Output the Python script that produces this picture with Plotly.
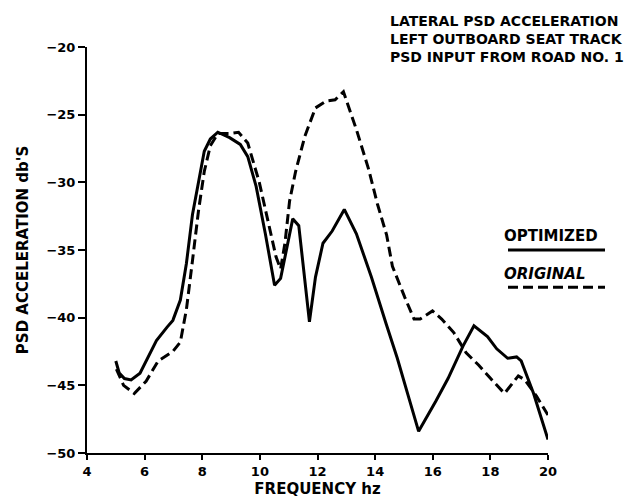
import plotly.graph_objects as go

# ---- data ----
freq_opt = [5.0, 5.12, 5.3, 5.53, 5.84, 6.1, 6.41, 6.78, 6.98, 7.24, 7.45, 7.66, 7.87,
            8.07, 8.28, 8.54, 8.95, 9.32, 9.58, 9.87, 10.19, 10.51, 10.72, 10.98, 11.14,
            11.35, 11.72, 11.93, 12.19, 12.51, 12.93, 13.35, 13.87, 14.39, 14.77, 15.14,
            15.51, 16.1, 16.53, 17.05, 17.43, 17.9, 18.22, 18.6, 18.91, 19.07, 19.5, 20.0]
psd_opt = [-43.2, -44.1, -44.5, -44.6, -44.1, -43.0, -41.7, -40.7, -40.2, -38.7, -36.0,
           -32.4, -29.9, -27.7, -26.8, -26.3, -26.7, -27.2, -28.1, -30.3, -33.8, -37.6,
           -37.1, -34.3, -32.7, -33.2, -40.3, -37.0, -34.5, -33.6, -32.0, -33.8, -37.0,
           -40.5, -43.0, -45.7, -48.4, -46.2, -44.5, -42.1, -40.6, -41.4, -42.3, -43.0,
           -42.9, -43.2, -45.6, -49.0]

freq_orig = [5.02, 5.27, 5.64, 6.05, 6.47, 6.98, 7.24, 7.45, 7.66, 7.87, 8.07, 8.28, 8.54,
             8.95, 9.26, 9.58, 9.98, 10.29, 10.56, 10.72, 10.87, 11.03, 11.24, 11.56,
             11.93, 12.29, 12.61, 12.9, 13.35, 13.77, 14.08, 14.4, 14.6, 15.03, 15.35,
             15.56, 15.99, 16.31, 16.73, 17.16, 17.59, 18.01, 18.49, 18.97, 19.2, 19.6, 20.0]
psd_orig = [-43.8, -45.0, -45.6, -44.7, -43.2, -42.5, -41.8, -39.4, -35.8, -32.1, -29.2,
            -27.3, -26.4, -26.4, -26.3, -27.1, -30.0, -32.9, -35.5, -36.4, -34.5, -31.4,
            -29.2, -26.6, -24.5, -24.0, -23.9, -23.3, -26.1, -29.0, -31.6, -33.9, -36.2,
            -38.5, -40.1, -40.1, -39.5, -40.1, -41.1, -42.6, -43.5, -44.5, -45.6, -44.3,
            -44.6, -45.8, -47.2]

x_ticks = [4, 6, 8, 10, 12, 14, 16, 18, 20]
y_ticks = [-50, -45, -40, -35, -30, -25, -20]

title_lines = ["LATERAL PSD ACCELERATION", "LEFT OUTBOARD SEAT TRACK", "PSD INPUT FROM ROAD NO. 1"]

FONT = "DejaVu Sans"

fig = go.Figure()
fig.add_trace(go.Scatter(x=freq_opt, y=psd_opt, mode="lines", name="OPTIMIZED",
                         line=dict(color="black", width=3), showlegend=False))
fig.add_trace(go.Scatter(x=freq_orig, y=psd_orig, mode="lines", name="ORIGINAL",
                         line=dict(color="black", width=3, dash="10px,5px"), showlegend=False))

W, H = 637, 499
L, R, T, B = 79, 97, 39, 46
pw, ph = W - L - R, H - T - B

def px(xp):
    return (xp - L) / pw

def py(yp):
    return (H - B - yp) / ph

fig.update_layout(
    width=W, height=H,
    margin=dict(l=L, r=R, t=T, b=B),
    paper_bgcolor="white", plot_bgcolor="white",
    font=dict(family=FONT, color="black", size=13),
    xaxis=dict(range=[4, 20], tickvals=x_ticks, ticktext=[str(v) for v in x_ticks],
               showgrid=False, zeroline=False, showline=True, linecolor="black", linewidth=2,
               ticks="outside", ticklen=5, tickwidth=2, tickcolor="black",
               tickfont=dict(family=FONT, size=13, color="black", weight="bold"),
               title=dict(text="<b>FREQUENCY hz</b>", font=dict(family=FONT, size=15), standoff=6)),
    yaxis=dict(range=[-50, -20], tickvals=y_ticks,
               ticktext=["\u2212" + str(abs(v)) for v in y_ticks],
               showgrid=False, zeroline=False, showline=True, linecolor="black", linewidth=2,
               ticks="outside", ticklen=7, tickwidth=2, tickcolor="black",
               tickfont=dict(family=FONT, size=13, color="black", weight="bold"),
               title=dict(text="<b>PSD ACCELERATION db'S</b>", font=dict(family=FONT, size=15), standoff=14)),
)

# title block (top right)
fig.add_annotation(text="<br>".join("<b>" + s + "</b>" for s in title_lines),
                   xref="paper", yref="paper", x=px(380), y=py(31),
                   xanchor="left", yanchor="middle", align="left",
                   showarrow=False, font=dict(family=FONT, size=14, color="black"))

# legend (text above sample lines)
fig.add_annotation(text="<b>OPTIMIZED</b>", xref="paper", yref="paper",
                   x=px(494), y=py(232), xanchor="left", yanchor="middle",
                   showarrow=False, font=dict(family=FONT, size=15, color="black"))
fig.add_annotation(text="<b><i>ORIGINAL</i></b>", xref="paper", yref="paper",
                   x=px(494), y=py(270), xanchor="left", yanchor="middle",
                   showarrow=False, font=dict(family=FONT, size=15, color="black"))
fig.add_shape(type="line", xref="paper", yref="paper", x0=px(500), x1=px(597),
              y0=py(246), y1=py(246), line=dict(color="black", width=3))
fig.add_shape(type="line", xref="paper", yref="paper", x0=px(500), x1=px(597),
              y0=py(284), y1=py(284), line=dict(color="black", width=3, dash="10px,5px"))

fig.write_html("out.html")
